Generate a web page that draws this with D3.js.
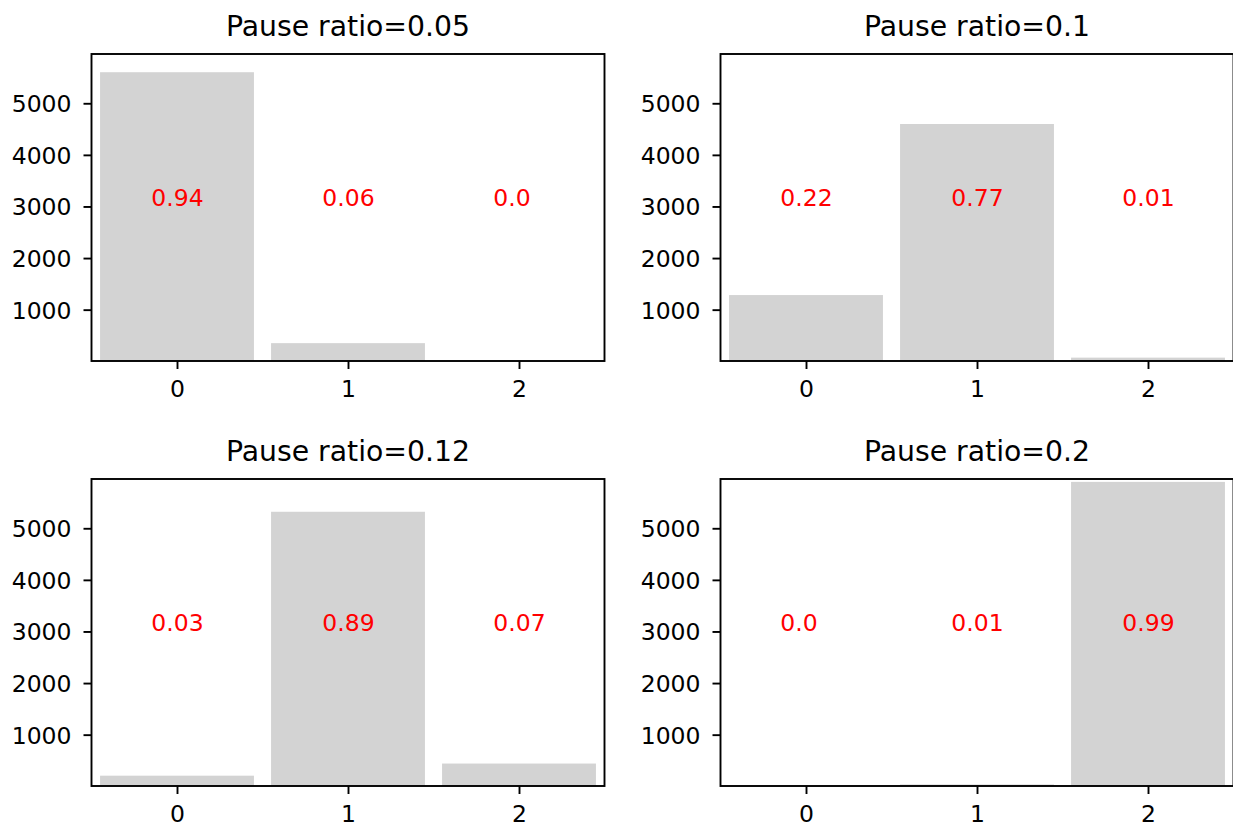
<!DOCTYPE html>
<html>
<head>
<meta charset="utf-8">
<script src="https://cdn.jsdelivr.net/npm/d3@7"></script>
<style>
  html, body { margin: 0; padding: 0; background: #fff; overflow: hidden; }
  svg { display: block; font-family: "DejaVu Sans", sans-serif; }
</style>
</head>
<body>
<svg id="chart" width="1233" height="827"></svg>
<script>
// Cluster indices shown on every panel
const categories = [0, 1, 2];

// One panel per pause ratio
const panelTitles = ["Pause ratio=0.05", "Pause ratio=0.1", "Pause ratio=0.12", "Pause ratio=0.2"];

// Counts per cluster for each panel
const countsP005 = [5602, 351, 3];
const countsP010 = [1283, 4598, 70];
const countsP012 = [205, 5320, 440];
const countsP020 = [5, 35, 5899];

// Share of each cluster, written inside the panel
const sharesP005 = ["0.94", "0.06", "0.0"];
const sharesP010 = ["0.22", "0.77", "0.01"];
const sharesP012 = ["0.03", "0.89", "0.07"];
const sharesP020 = ["0.0", "0.01", "0.99"];

const yTicks = [1000, 2000, 3000, 4000, 5000];
const yDomain = [5, 5955];
const labelLevel = 3000;

const panels = [
  { title: panelTitles[0], counts: countsP005, shares: sharesP005, col: 0, row: 0 },
  { title: panelTitles[1], counts: countsP010, shares: sharesP010, col: 1, row: 0 },
  { title: panelTitles[2], counts: countsP012, shares: sharesP012, col: 0, row: 1 },
  { title: panelTitles[3], counts: countsP020, shares: sharesP020, col: 1, row: 1 }
];

// Panel frames in page pixels
const colX = [91.5, 720.5];
const rowY = [54, 479];
const panelW = 513;
const panelH = 307;

const svg = d3.select("#chart");
const tickFont = 23.5;
const titleFont = 28.3;
const lineW = 1.9;

panels.forEach(p => {
  const x0 = colX[p.col];
  const y0 = rowY[p.row];
  const g = svg.append("g").attr("transform", `translate(${x0},${y0})`);

  const x = d3.scaleLinear().domain([-0.5, 2.5]).range([0, panelW]);
  const y = d3.scaleLinear().domain(yDomain).range([panelH, 0]);
  const halfW = 0.45;

  // bars
  g.selectAll("rect.bar")
    .data(categories)
    .join("rect")
    .attr("class", "bar")
    .attr("x", d => x(d - halfW))
    .attr("width", d => x(d + halfW) - x(d - halfW))
    .attr("y", d => y(Math.max(p.counts[d], yDomain[0])))
    .attr("height", d => Math.max(0, y(yDomain[0]) - y(Math.max(p.counts[d], yDomain[0]))))
    .attr("fill", "#d3d3d3");

  // share labels
  g.selectAll("text.share")
    .data(categories)
    .join("text")
    .attr("class", "share")
    .attr("x", d => x(d - 0.15))
    .attr("y", y(labelLevel))
    .attr("fill", "#ff0000")
    .attr("font-size", tickFont)
    .text(d => p.shares[d]);

  // x axis
  const xAxis = d3.axisBottom(x).tickValues(categories).tickFormat(d3.format("d"))
    .tickSize(8).tickPadding(8);
  const gx = g.append("g").attr("transform", `translate(0,${panelH})`).call(xAxis);
  gx.select(".domain").remove();
  gx.selectAll(".tick line").attr("stroke", "#000").attr("stroke-width", lineW);
  gx.selectAll(".tick text").attr("font-size", tickFont).attr("fill", "#000")
    .attr("font-family", "DejaVu Sans").attr("dy", "0.84em");

  // y axis
  const yAxis = d3.axisLeft(y).tickValues(yTicks).tickFormat(d3.format("d"))
    .tickSize(8).tickPadding(12);
  const gy = g.append("g").call(yAxis);
  gy.select(".domain").remove();
  gy.selectAll(".tick line").attr("stroke", "#000").attr("stroke-width", lineW);
  gy.selectAll(".tick text").attr("font-size", tickFont).attr("fill", "#000")
    .attr("font-family", "DejaVu Sans").attr("dy", "0.36em");

  // frame
  g.append("rect")
    .attr("x", 0).attr("y", 0)
    .attr("width", panelW).attr("height", panelH)
    .attr("fill", "none")
    .attr("stroke", "#000")
    .attr("stroke-width", lineW);

  // title
  g.append("text")
    .attr("x", panelW / 2)
    .attr("y", -18)
    .attr("text-anchor", "middle")
    .attr("font-size", titleFont)
    .attr("fill", "#000")
    .text(p.title);
});
</script>
</body>
</html>
